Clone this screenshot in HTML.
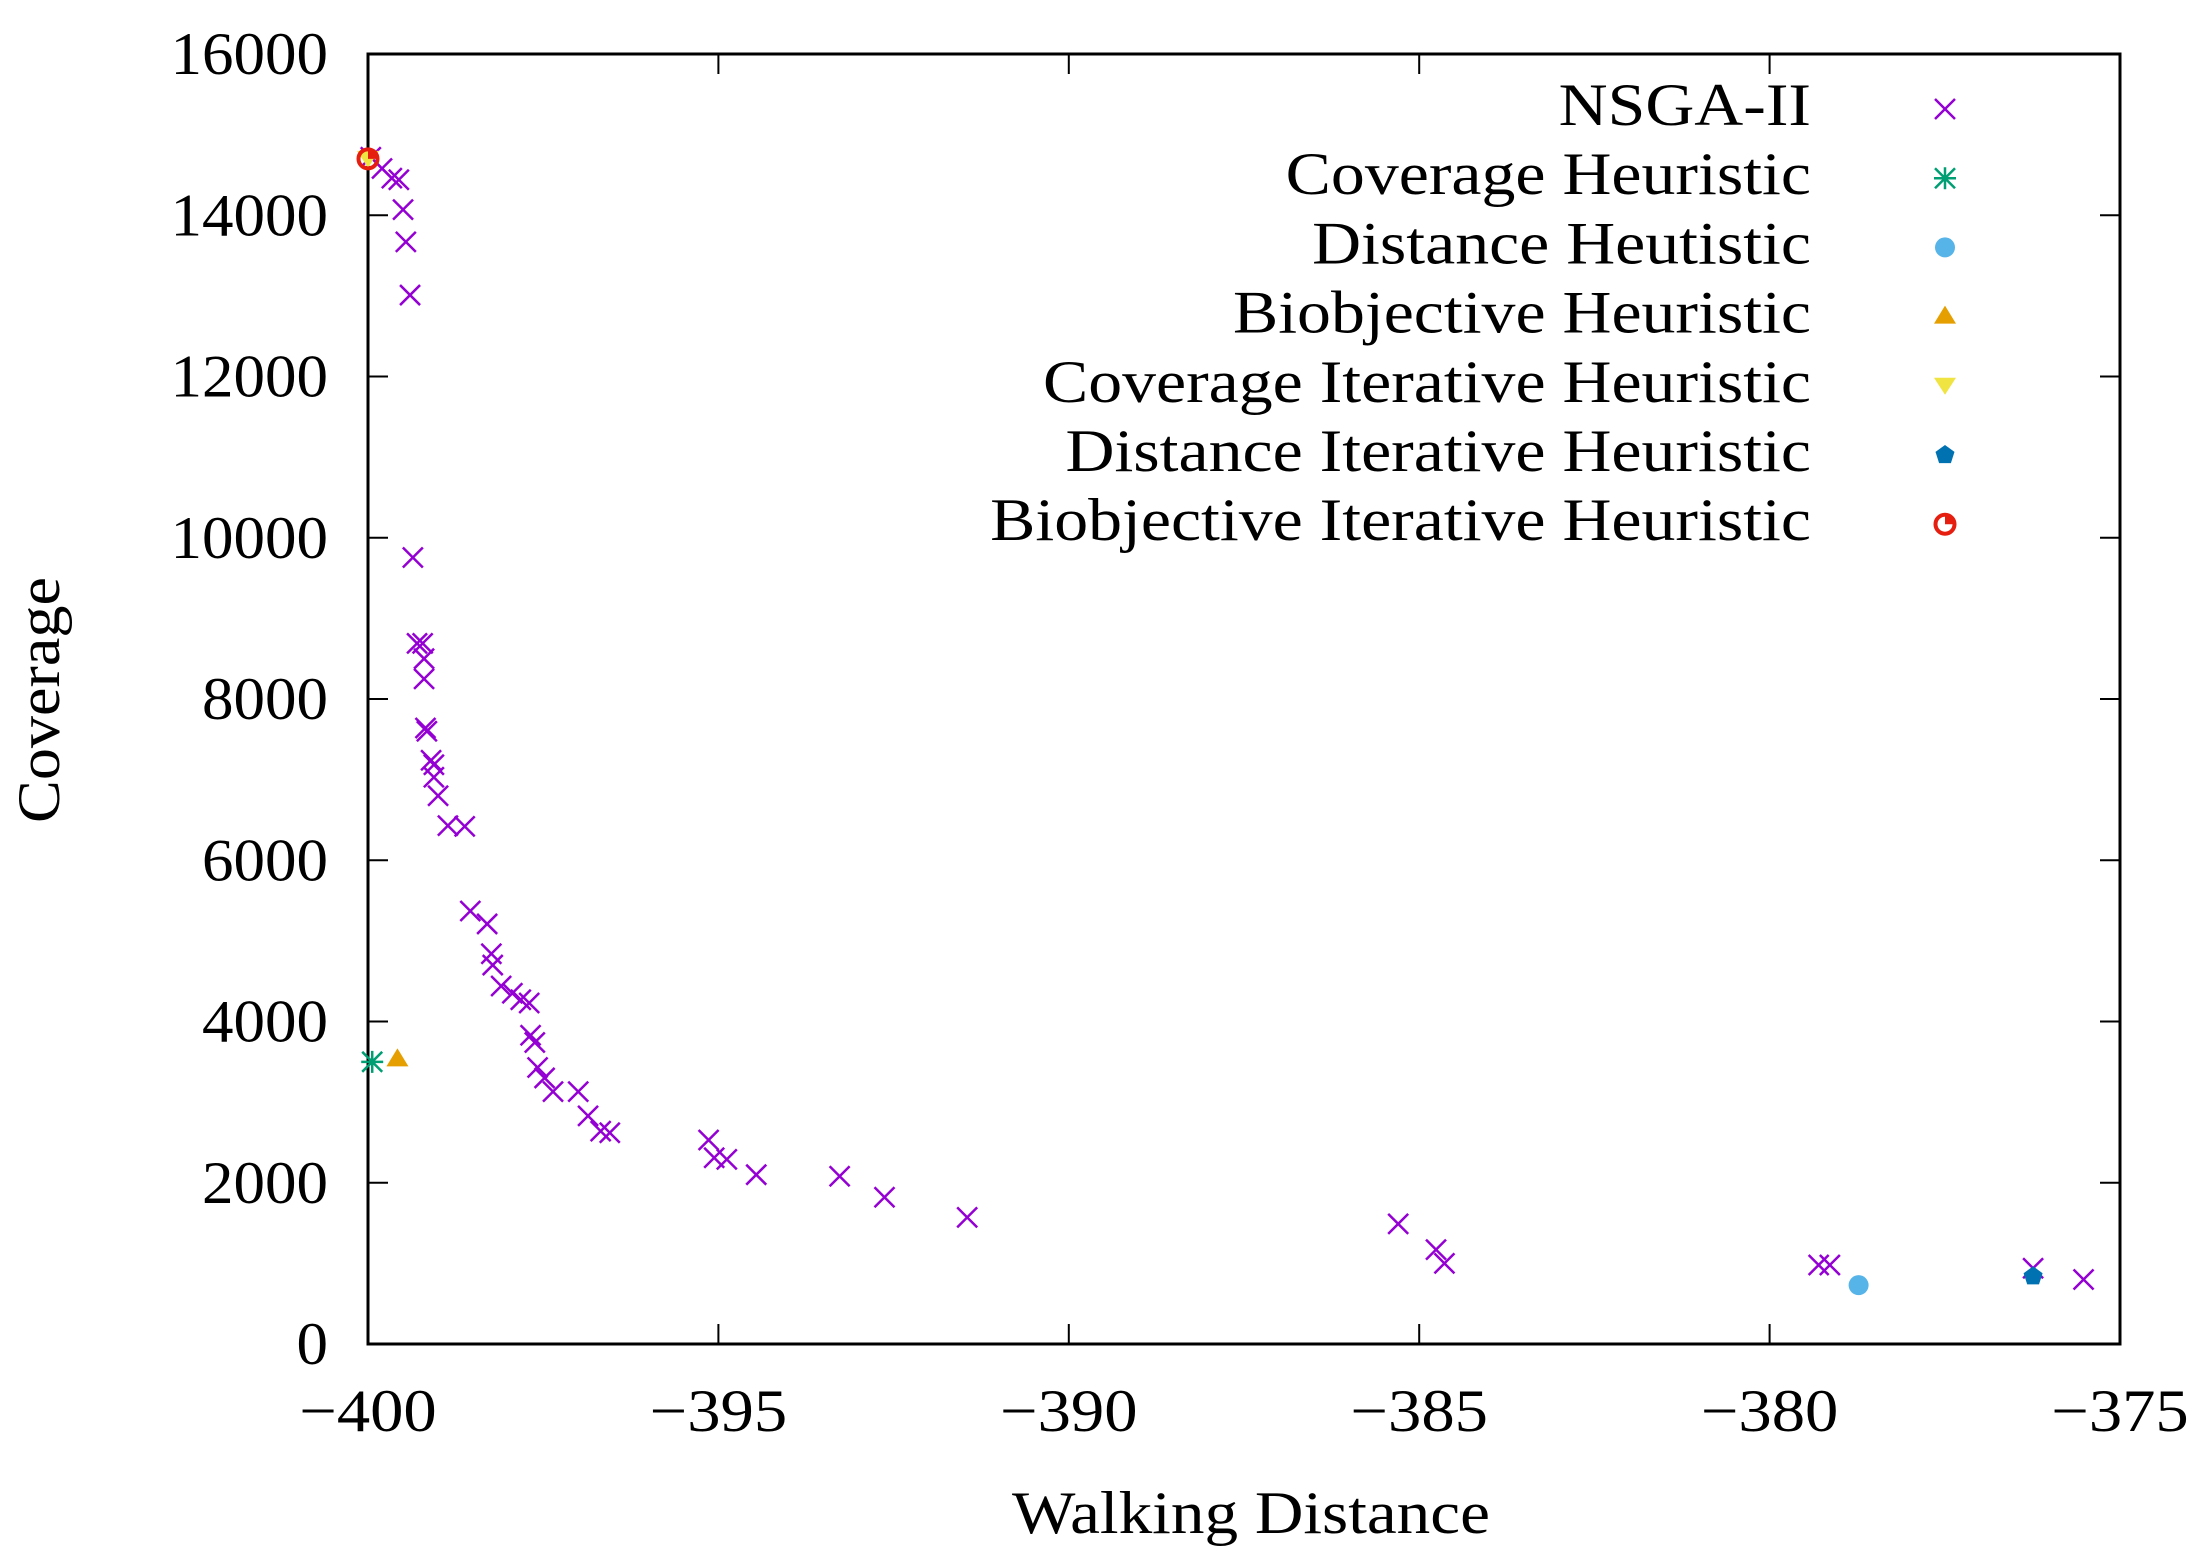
<!DOCTYPE html>
<html><head><meta charset="utf-8"><style>
html,body{margin:0;padding:0;background:#fff;}
svg{display:block;}
text{font-family:"Liberation Serif",serif;fill:#000;}
</style></head><body>
<svg id="chart" width="2208" height="1568" viewBox="0 0 2208 1568">
<g id="axes"></g>
<g id="marks"></g>
<g id="legend"></g>
<text id="ytitle" x="45" y="700" font-size="60" text-anchor="middle" transform="rotate(-90 45 700)" dominant-baseline="middle">Coverage</text>
<text id="xtitle" x="1251" y="1533" font-size="60" text-anchor="middle">Walking Distance</text>
</svg>
<script>
const xTicks = [-400, -395, -390, -385, -380, -375];
const yTicks = [0, 2000, 4000, 6000, 8000, 10000, 12000, 14000, 16000];
const nsgaX = [-399.96,-399.8,-399.66,-399.56,-399.5,-399.46,-399.4,-399.36,-399.3,-399.22,-399.2,-399.2,-399.18,-399.16,-399.1,-399.06,-399.06,-399.0,-398.86,-398.62,-398.54,-398.3,-398.24,-398.22,-398.1,-397.94,-397.82,-397.7,-397.68,-397.62,-397.58,-397.48,-397.36,-397.0,-396.86,-396.68,-396.55,-395.14,-395.06,-394.88,-394.46,-393.27,-392.63,-391.45,-385.3,-384.76,-384.64,-379.3,-379.14,-376.24,-375.52];
const nsgaY = [14720,14580,14460,14440,14070,13670,13010,9755,8690,8690,8500,8250,7640,7600,7240,7185,7030,6800,6430,6420,5370,5210,4840,4700,4440,4350,4270,4230,3830,3740,3430,3300,3130,3130,2830,2640,2620,2530,2310,2290,2100,2080,1820,1570,1490,1170,1000,980,980,940,800];
const heurNames = ["Coverage Heuristic","Distance Heutistic","Biobjective Heuristic","Coverage Iterative Heuristic","Distance Iterative Heuristic","Biobjective Iterative Heuristic"];
const heurX = [-399.94,-378.73,-399.58,-400,-376.24,-400];
const heurY = [3500,730,3530,14700,840,14700];

const NS="http://www.w3.org/2000/svg";
const L=368,R=2120,T=54,B=1344;
const sx=v=>L+(v+400)/25*(R-L);
const sy=v=>B-v/16000*(B-T);
function el(tag,attrs,parent){const e=document.createElementNS(NS,tag);for(const k in attrs)e.setAttribute(k,attrs[k]);parent.appendChild(e);return e;}
function widen(t,f){const w=t.getComputedTextLength();t.setAttribute('textLength',(w*f).toFixed(1));t.setAttribute('lengthAdjust','spacingAndGlyphs');}
const axes=document.getElementById('axes'),marks=document.getElementById('marks'),legend=document.getElementById('legend');

const frame=el('rect',{x:L,y:T,width:R-L,height:B-T,fill:'none',stroke:'#000','stroke-width':3},axes);


yTicks.forEach(v=>{
  const y=sy(v);
  const t1=el('path',{d:`M${L} ${y}h20M${R} ${y}h-20`,stroke:'#000','stroke-width':2},axes);
  
  
  const tx=el('text',{x:L-40,y:y+20,'font-size':60,'text-anchor':'end'},axes);tx.textContent=v;
  
  
  widen(tx,1.05);
});
xTicks.forEach(v=>{
  const x=sx(v);
  const t1=el('path',{d:`M${x} ${B}v-20M${x} ${T}v20`,stroke:'#000','stroke-width':2},axes);
  
  
  const tx=el('text',{x:x,y:1431,'font-size':60,'text-anchor':'middle'},axes);tx.textContent='\u2212'+Math.abs(v);
  
  
  widen(tx,1.11);
});
widen(document.getElementById('xtitle'),1.12);
widen(document.getElementById('ytitle'),1.07);

function marker(type,x,y,parent){
  const g=el('g',{},parent);
  const s=10;
  if(type==='x'){el('path',{d:`M${x-s} ${y-s}L${x+s} ${y+s}M${x-s} ${y+s}L${x+s} ${y-s}`,stroke:'#9400d3','stroke-width':2.5},g);}
  else if(type==='star'){el('path',{d:`M${x-s} ${y-s}L${x+s} ${y+s}M${x-s} ${y+s}L${x+s} ${y-s}M${x} ${y-s-1}V${y+s+1}M${x-s-1} ${y}H${x+s+1}`,stroke:'#009e73','stroke-width':2.5},g);}
  else if(type==='circle'){el('circle',{cx:x,cy:y,r:10,fill:'#56b4e9'},g);}
  else if(type==='tri'){el('path',{d:`M${x} ${y-11}L${x+11} ${y+7}L${x-11} ${y+7}Z`,fill:'#e69f00'},g);}
  else if(type==='itri'){el('path',{d:`M${x} ${y+9}L${x+11} ${y-8}L${x-11} ${y-8}Z`,fill:'#f0e442'},g);}
  else if(type==='pent'){let p=[];for(let i=0;i<5;i++){const a=-Math.PI/2+i*2*Math.PI/5;p.push((x+10*Math.cos(a)).toFixed(1)+','+(y+10*Math.sin(a)).toFixed(1));}el('polygon',{points:p.join(' '),fill:'#0072b2'},g);}
  else if(type==='ocirc'){el('circle',{cx:x,cy:y,r:9.5,fill:'none',stroke:'#e51e10','stroke-width':4},g);el('path',{d:`M${x} ${y}V${y-8}A8 8 0 0 1 ${x+8} ${y}Z`,fill:'#e51e10'},g);}
  return g;
}
const types=['star','circle','tri','itri','pent','ocirc'];
nsgaX.forEach((v,i)=>{
  const m=marker('x',sx(v),sy(nsgaY[i]),marks);
  
  
});
heurX.forEach((v,i)=>{
  const m=marker(types[i],sx(v),sy(heurY[i]),marks);
  
  
});
const names=['NSGA-II'].concat(heurNames);
const ltypes=['x'].concat(types);
names.forEach((n,i)=>{
  const y=109+i*69.2;
  const g=el('g',{},legend);
  
  
  const t=el('text',{x:1811,y:y+16,'font-size':60,'text-anchor':'end'},g);t.textContent=n;
  widen(t,1.13);
  marker(ltypes[i],1945,y,g);
});
</script>
</body></html>
